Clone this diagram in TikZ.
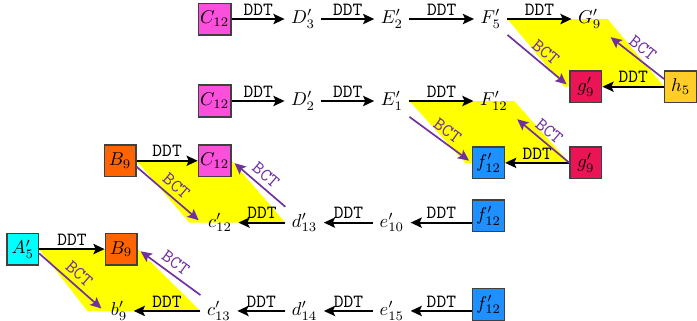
\documentclass[tikz,border=0pt]{standalone}
\usepackage{amsmath,amssymb}
\usepackage{tikz}
\usetikzlibrary{arrows.meta,calc,backgrounds}
\usepackage{xcolor}
\definecolor{bct}{RGB}{112,48,160}
\definecolor{magentabox}{RGB}{250,80,220}
\definecolor{orangebox}{RGB}{255,100,0}
\definecolor{cyanbox}{RGB}{0,255,255}
\definecolor{bluebox}{RGB}{30,144,255}
\definecolor{redbox}{RGB}{235,20,85}
\definecolor{goldbox}{RGB}{255,205,40}
\definecolor{diamond}{RGB}{255,255,0}

\begin{document}
\begin{tikzpicture}[
  box/.style={draw=black!75, line width=0.7pt, minimum size=0.6cm, inner sep=1pt},
  ddt/.style={-{Stealth[length=6pt,width=5.5pt,inset=1.2pt]}, line width=1.1pt},
  bctarr/.style={-{Stealth[length=6pt,width=5.5pt,inset=1.2pt]}, line width=0.9pt, bct, shorten >=2pt},
  lbl/.style={font=\ttfamily, inner sep=1.5pt},
  bctlbl/.style={font=\ttfamily, inner sep=2.5pt},
]
\useasboundingbox (0,0) rectangle (13.18,-6.07);

% ROW 1
\node[box, fill=magentabox] (c12a) at (4.06,-0.36) {$C_{12}$};
\node (d3) at (5.73,-0.36) {$D'_3$};
\node (e2) at (7.41,-0.36) {$E'_2$};
\node (f5) at (9.28,-0.36) {$F'_5$};
\node (g9) at (11.15,-0.36) {$G'_9$};
\node[box, fill=redbox] (g9a) at (11.08,-1.64) {$g'_9$};
\node[box, fill=goldbox] (h5) at (12.87,-1.64) {$h_5$};

\draw[ddt] (c12a) -- node[lbl, above] {DDT} (d3);
\draw[ddt] (d3) -- node[lbl, above] {DDT} (e2);
\draw[ddt] (e2) -- node[lbl, above] {DDT} (f5);
\draw[ddt] (f5) -- node[lbl, above] {DDT} (g9);
\draw[ddt] (h5) -- node[lbl, above] {DDT} (g9a);
\draw[bctarr] (f5.south east) -- node[bctlbl, above, sloped] {BCT} (g9a.west);
\draw[bctarr] (h5.155) -- node[bctlbl, above, sloped] {BCT} (g9.south east);

% ROW 2
\node[box, fill=magentabox] (c12b) at (4.06,-1.91) {$C_{12}$};
\node (d2) at (5.73,-1.91) {$D'_2$};
\node (e1) at (7.41,-1.91) {$E'_1$};
\node (f12) at (9.34,-1.91) {$F'_{12}$};
\node[box, fill=bluebox] (f12a) at (9.24,-3.08) {$f'_{12}$};
\node[box, fill=redbox] (g9b) at (11.08,-3.08) {$g'_9$};

\draw[ddt] (c12b) -- node[lbl, above] {DDT} (d2);
\draw[ddt] (d2) -- node[lbl, above] {DDT} (e1);
\draw[ddt] (e1) -- node[lbl, above] {DDT} (f12);
\draw[ddt] (g9b) -- node[lbl, above] {DDT} (f12a);
\draw[bctarr] (e1.south east) -- node[bctlbl, above, sloped] {BCT} (f12a.west);
\draw[bctarr] (g9b.west) -- node[bctlbl, above, sloped] {BCT} (f12.south east);

% ROW 3
\node[box, fill=orangebox] (b9a) at (2.27,-3.04) {$B_9$};
\node[box, fill=magentabox] (c12c) at (4.06,-3.04) {$C_{12}$};
\node (c12) at (4.16,-4.21) {$c'_{12}$};
\node (d13) at (5.76,-4.21) {$d'_{13}$};
\node (e10) at (7.41,-4.21) {$e'_{10}$};
\node[box, fill=bluebox] (f12b) at (9.24,-4.08) {$f'_{12}$};

\draw[ddt] (b9a) -- node[lbl, above] {DDT} (c12c);
\draw[ddt] (f12b.west |- e10) -- node[lbl, above] {DDT} (e10);
\draw[ddt] (e10) -- node[lbl, above] {DDT} (d13);
\draw[ddt] (d13) -- node[lbl, above] {DDT} (c12);
\draw[bctarr] (b9a.-20) -- node[bctlbl, above, sloped] {BCT} (c12.west);
\draw[bctarr] (d13.north west) -- node[bctlbl, above, sloped] {BCT} (c12c.east);

% ROW 4
\node[box, fill=cyanbox] (a5) at (0.43,-4.71) {$A'_5$};
\node[box, fill=orangebox] (b9b) at (2.29,-4.71) {$B_9$};
\node (b9) at (2.25,-5.88) {$b'_9$};
\node (c13) at (4.14,-5.88) {$c'_{13}$};
\node (d14) at (5.76,-5.88) {$d'_{14}$};
\node (e15) at (7.41,-5.88) {$e'_{15}$};
\node[box, fill=bluebox] (f12c) at (9.24,-5.76) {$f'_{12}$};

\draw[ddt] (a5) -- node[lbl, above] {DDT} (b9b);
\draw[ddt] (f12c.west |- e15) -- node[lbl, above] {DDT} (e15);
\draw[ddt] (e15) -- node[lbl, above] {DDT} (d14);
\draw[ddt] (d14) -- node[lbl, above] {DDT} (c13);
\draw[ddt] (c13) -- node[lbl, above] {DDT} (b9);
\draw[bctarr] (a5.-15) -- node[bctlbl, above, sloped] {BCT} (b9.west);
\draw[bctarr] (c13.north west) -- node[bctlbl, above, sloped] {BCT} (b9b.east);

% yellow areas
\begin{scope}[on background layer]
  \fill[diamond] (f5.east) -- (g9.east) -- (h5.west) -- ($(g9a.west)+(-0.1,0)$) -- cycle;
  \fill[diamond] (e1.east) -- (f12.east) -- (g9b.west) -- ($(f12a.west)+(-0.13,0)$) -- cycle;
  \fill[diamond] (b9a.east) -- (c12c.east) -- (d13.west) -- ($(c12.west)+(-0.23,0)$) -- cycle;
  \fill[diamond] (a5.east) -- (b9b.east) -- (c13.west) -- ($(b9.west)+(-0.32,0)$) -- cycle;
\end{scope}
\end{tikzpicture}
\end{document}
